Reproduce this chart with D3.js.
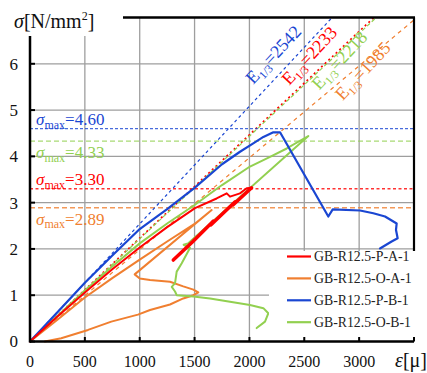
<!DOCTYPE html>
<html>
<head>
<meta charset="utf-8">
<script src="https://cdn.jsdelivr.net/npm/d3@7"></script>
<style>
body { margin: 0; background: #fff; }
svg { display: block; }
</style>
</head>
<body>
<div id="chart"></div>
<script>
(() => {
const width = 427, height = 373;
const serif = "'Liberation Serif', 'Times New Roman', 'DejaVu Serif', serif";

// ---- data ----
const names = ["GB-R12.5-P-A-1", "GB-R12.5-O-A-1", "GB-R12.5-P-B-1", "GB-R12.5-O-B-1"];
const colors = ["#ff0000", "#f07f30", "#1a46d2", "#92d050"];
const sigmaMax = [3.30, 2.89, 4.60, 4.33];
const e13 = [2233, 1985, 2542, 2218];

const xTicks = [0, 500, 1000, 1500, 2000, 2500, 3000, 3500];
const xTickLabels = ["0", "500", "1000", "1500", "2000", "2500", "3000"];
const yTicks = [0, 1, 2, 3, 4, 5, 6, 7];
const yTickLabels = ["0", "1", "2", "3", "4", "5", "6"];

// P-A-1 loading branch and the (thick) unloading branch
const paLoad = [[0,0],[250,0.54],[500,1.06],[750,1.56],[1000,2.03],[1250,2.47],[1504,2.88],[1701,3.09],
  [1793,3.20],[1823,3.13],[1914,3.20],[1975,3.31],[2020,3.32]];
const paUnload = [[2020,3.32],[1850,2.95],[1870,3.02],[1650,2.52],[1670,2.60],[1480,2.15],[1306,1.76]];
const oa = [[0,0],[250,0.47],[500,0.95],[750,1.37],[1000,1.77],[1250,2.16],[1500,2.54],[1656,2.84],
  [954,1.45],[1000,1.36],[1094,1.33],[1276,1.29],[1397,1.19],[1489,1.12],[1534,1.06],[1489,1.00],
  [1397,0.93],[1276,0.80],[1094,0.68],[984,0.58],[741,0.43],[529,0.25],[285,0.07],[134,0]];
const pb = [[0,0],[250,0.63],[500,1.27],[750,1.86],[1000,2.43],[1250,2.86],[1500,3.32],[1750,3.83],
  [1914,4.10],[2035,4.28],[2127,4.42],[2218,4.52],[2279,4.52],[2719,2.70],[2759,2.855],[3008,2.83],
  [3129,2.77],[3236,2.70],[3342,2.55],[3336,2.41],[3351,2.23],[3296,2.16],[3190,2.01]];
const ob = [[0,0],[250,0.55],[500,1.10],[750,1.62],[1000,2.12],[1250,2.55],[1500,2.95],[1750,3.38],
  [2005,3.78],[2188,3.99],[2340,4.17],[2537,4.44],[1440,2.12],[1400,2.09],[1458,2.02],[1383,1.69],
  [1337,1.51],[1322,1.26],[1292,1.18],[1322,1.08],[1337,1.00],[1489,0.97],[1641,0.93],[1823,0.86],
  [2005,0.79],[2127,0.72],[2172,0.61],[2142,0.43],[2066,0.29]];

const svg = d3.select("#chart").append("svg")
  .attr("width", width).attr("height", height)
  .attr("font-family", serif);

const x = d3.scaleLinear().domain([0, 3500]).range([30, 414]);
const y = d3.scaleLinear().domain([0, 7]).range([341.5, 17.5]);

svg.append("defs").append("clipPath").attr("id", "plot-clip")
  .append("rect")
  .attr("x", x(0)).attr("y", y(7))
  .attr("width", x(3500) - x(0)).attr("height", y(0) - y(7));

// grid
const grid = svg.append("g").attr("stroke", "#9e9e9e").attr("stroke-width", 1.3);
grid.selectAll(".gx").data(xTicks.slice(1, -1)).join("line")
  .attr("x1", d => x(d)).attr("x2", d => x(d))
  .attr("y1", y(0)).attr("y2", y(7));
grid.selectAll(".gy").data(yTicks.slice(1, -1)).join("line")
  .attr("x1", x(0)).attr("x2", x(3500))
  .attr("y1", d => y(d)).attr("y2", d => y(d));

// dashed reference lines
const dashH = ["3,2.5", "5,3", "3,2", "5,3"];
const dashE = ["2,3", "4,4", "3,3", "4,2.5"];
const widthH = [1.7, 1.3, 1.3, 1.3];
const refs = svg.append("g").attr("clip-path", "url(#plot-clip)").attr("fill", "none");
sigmaMax.forEach((s, i) => {
  refs.append("line")
    .attr("x1", x(0)).attr("x2", x(3500))
    .attr("y1", y(s)).attr("y2", y(s))
    .attr("stroke", colors[i]).attr("stroke-opacity", 0.8)
    .attr("stroke-width", widthH[i]).attr("stroke-dasharray", dashH[i]);
  refs.append("line")
    .attr("x1", x(0)).attr("y1", y(0))
    .attr("x2", x(3500)).attr("y2", y(e13[i] * 3500e-6))
    .attr("stroke", colors[i])
    .attr("stroke-width", i === 0 ? 1.7 : 1.2).attr("stroke-dasharray", dashE[i]);
});

// curves
const line = d3.line().x(d => x(d[0])).y(d => y(d[1]));
const curves = svg.append("g").attr("fill", "none")
  .attr("stroke-linejoin", "round").attr("stroke-linecap", "round");
[[oa, 1, 2], [ob, 3, 2], [pb, 2, 2.2], [paLoad, 0, 2], [paUnload, 0, 3.5]].forEach(([pts, i, w]) => {
  curves.append("path").attr("d", line(pts))
    .attr("stroke", colors[i]).attr("stroke-width", w);
});

// legend box
const lg = svg.append("g");
lg.append("rect").attr("x", 269).attr("y", 251).attr("width", 150).attr("height", 87).attr("fill", "#fff");
names.forEach((n, i) => {
  const by = 261 + i * 21.9;
  lg.append("line").attr("x1", 287).attr("x2", 311).attr("y1", by - 4.5).attr("y2", by - 4.5)
    .attr("stroke", colors[i]).attr("stroke-width", 2.2);
  lg.append("text").attr("x", 314).attr("y", by).attr("font-family", serif)
    .attr("font-size", 13.8).attr("fill", "#222").text(n);
});

// frame / axes
const frame = svg.append("g").attr("stroke", "#000").attr("fill", "none");
frame.append("line").attr("x1", x(0)).attr("x2", x(3500)).attr("y1", y(0)).attr("y2", y(0)).attr("stroke-width", 2.5);
frame.append("line").attr("x1", x(0)).attr("x2", x(0)).attr("y1", y(0) + 1).attr("y2", y(7)).attr("stroke-width", 2.5);
frame.append("line").attr("x1", x(0)).attr("x2", x(3500) + 1).attr("y1", y(7)).attr("y2", y(7)).attr("stroke-width", 2.5);
frame.append("line").attr("x1", x(3500)).attr("x2", x(3500)).attr("y1", y(7)).attr("y2", 251).attr("stroke-width", 2.2);
frame.selectAll(".tx").data(xTicks).join("line")
  .attr("x1", d => x(d)).attr("x2", d => x(d))
  .attr("y1", y(0)).attr("y2", y(0) - 4.5).attr("stroke-width", 2);
frame.selectAll(".ty").data(yTicks).join("line")
  .attr("x1", x(0)).attr("x2", x(0) + 5)
  .attr("y1", d => y(d)).attr("y2", d => y(d)).attr("stroke-width", 2);

// white patch behind the y title
svg.append("rect").attr("x", 0).attr("y", 0).attr("width", 123).attr("height", 36).attr("fill", "#fff");

// tick labels
svg.append("g").selectAll("text").data(xTickLabels).join("text")
  .attr("x", (d, i) => x(xTicks[i])).attr("y", 367).attr("font-family", serif)
  .attr("text-anchor", "middle").attr("font-size", 16).attr("fill", "#111").text(d => d);
svg.append("g").selectAll("text").data(yTickLabels).join("text")
  .attr("x", 18).attr("y", (d, i) => y(yTicks[i])).attr("dy", "0.35em").attr("font-family", serif)
  .attr("text-anchor", "end").attr("font-size", 17).attr("fill", "#111").text(d => d);

// axis titles
const yt = svg.append("text").attr("x", 14).attr("y", 28).attr("font-family", serif)
  .attr("font-size", 20).attr("fill", "#111");
yt.append("tspan").attr("font-style", "italic").text("σ");
yt.append("tspan").text("[N/mm");
yt.append("tspan").attr("font-size", 12).attr("dy", -8).text("2");
yt.append("tspan").attr("dy", 8).text("]");
const xt = svg.append("text").attr("x", 395).attr("y", 367).attr("font-family", serif)
  .attr("font-size", 20).attr("fill", "#111");
xt.append("tspan").attr("font-style", "italic").text("ε");
xt.append("tspan").text("[μ]");

// sigma max labels
const below = [false, true, false, true];
sigmaMax.forEach((s, i) => {
  const t = svg.append("text").attr("x", 36).attr("y", y(s) + (below[i] ? 17 : -3.5))
    .attr("font-family", serif).attr("font-size", 17).attr("fill", colors[i]);
  t.append("tspan").attr("font-style", "italic").text("σ");
  t.append("tspan").attr("font-size", 12).attr("dy", 3.5).text("max");
  t.append("tspan").attr("dy", -3.5).text("=" + s.toFixed(2));
});

// E1/3 labels, anchored in data units
const eAnchor = [[2363, 5.52], [2850, 5.19], [2035, 5.54], [2637, 5.42]];
e13.forEach((e, i) => {
  const [ax, ay] = eAnchor[i];
  const t = svg.append("text")
    .attr("transform", `translate(${x(ax)},${y(ay)}) rotate(-47)`)
    .attr("font-family", serif).attr("font-size", 18).attr("fill", colors[i]);
  t.append("tspan").text("E");
  t.append("tspan").attr("font-size", 11.5).attr("dy", 4).text("1/3");
  t.append("tspan").attr("dy", -4).text("=" + e);
});
})();
</script>
</body>
</html>
